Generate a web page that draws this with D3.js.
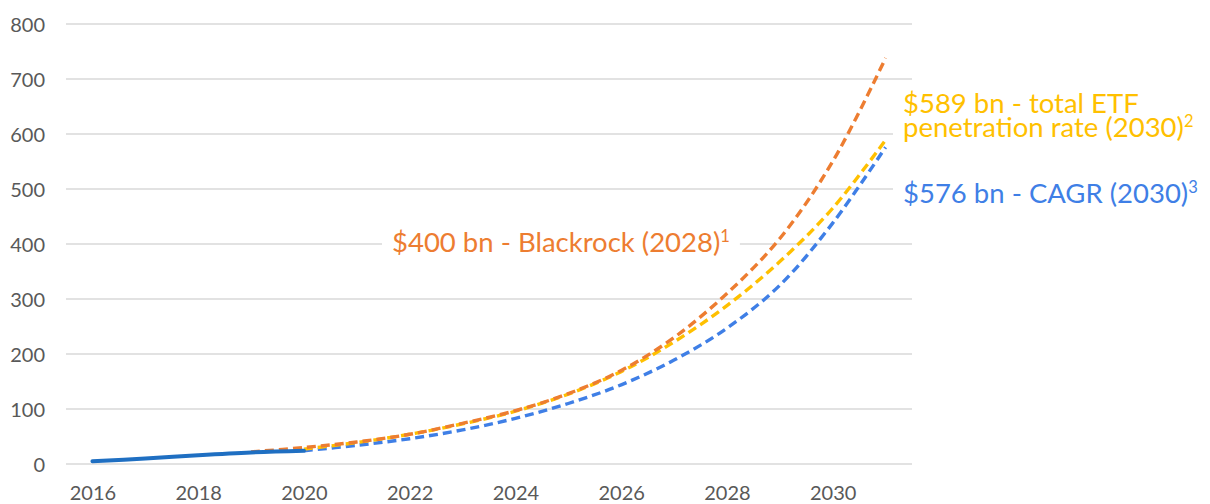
<!DOCTYPE html>
<html>
<head>
<meta charset="utf-8">
<script src="https://cdn.jsdelivr.net/npm/d3@7"></script>
<style>
  body { margin: 0; background: #fff; }
  text { font-family: Lato, "Open Sans", sans-serif; }
  .axis text { fill: #595959; font-size: 20px; }
  .axis .domain { display: none; }
</style>
</head>
<body>
<svg width="1210" height="504"></svg>
<script>
var svg = d3.select("svg"),
  width = +svg.attr("width"),
  height = +svg.attr("height");

// categories (years) and series, null where a series has no value
const years = [2016, 2017, 2018, 2019, 2020, 2021, 2022, 2023, 2024, 2025, 2026, 2027, 2028, 2029, 2030, 2031];
const yearLabels = [2016, 2018, 2020, 2022, 2024, 2026, 2028, 2030];
const historical = [5, 10, 16, 21, 24, null, null, null, null, null, null, null, null, null, null, null];
const blackrock = [null, null, null, 22, 30, 40, 54, 74, 97, 128, 170, 230, 310, 410, 550, 738];
const penetration = [null, null, null, null, 27, 39, 54, 73, 96, 127, 168, 222, 288, 368, 465, 589];
const cagr = [null, null, null, null, 24, 34, 46, 62, 83, 110, 144, 189, 247, 325, 438, 576];
const yTicks = [0, 100, 200, 300, 400, 500, 600, 700, 800];

var x = d3.scalePoint()
  .domain(years)
  .range([66, 912])
  .padding(0.5);

var y = d3.scaleLinear()
  .domain([0, 800])
  .range([464, 24]);

// gridlines
svg.append("g")
  .attr("class", "grid")
  .selectAll("line")
  .data(yTicks)
  .enter().append("line")
  .attr("x1", 66)
  .attr("x2", 912)
  .attr("y1", function(d) { return y(d); })
  .attr("y2", function(d) { return y(d); })
  .attr("stroke", "#d9d9d9")
  .attr("stroke-width", 1.4);

svg.append("g")
  .attr("class", "axis")
  .attr("transform", "translate(66,0)")
  .call(d3.axisLeft(y).tickValues(yTicks).tickSize(0).tickPadding(21))
  .selectAll("text").attr("dy", "0.36em");

svg.append("g")
  .attr("class", "axis")
  .attr("transform", "translate(0,464)")
  .call(d3.axisBottom(x).tickValues(yearLabels).tickSize(0).tickPadding(22));

var series = [
  { values: cagr, color: "#3f7fe6", dash: "9,5", w: 3.4 },
  { values: penetration, color: "#ffc000", dash: "9,5", w: 3.4 },
  { values: blackrock, color: "#ed7d31", dash: "9,5", w: 3.4 },
  { values: historical, color: "#1f6fc2", dash: null, w: 4 }
];

var line = d3.line()
  .defined(function(d) { return d[1] != null; })
  .x(function(d) { return x(d[0]); })
  .y(function(d) { return y(d[1]); })
  .curve(d3.curveCatmullRom.alpha(0.5));

svg.append("g")
  .attr("class", "lines")
  .selectAll("path")
  .data(series)
  .enter().append("path")
  .attr("fill", "none")
  .attr("stroke", function(d) { return d.color; })
  .attr("stroke-width", function(d) { return d.w; })
  .attr("stroke-dasharray", function(d) { return d.dash; })
  .attr("stroke-linecap", function(d) { return d.dash ? "butt" : "round"; })
  .attr("d", function(d) {
    return line(years.map(function(yr, i) { return [yr, d.values[i]]; }));
  });

// annotations with white boxes behind them
function label(lines, sup, color, xPos, yPos, size, lineH) {
  var g = svg.append("g");
  var t = g.append("text")
    .attr("x", xPos)
    .attr("y", yPos)
    .attr("fill", color)
    .style("font-size", size + "px");
  lines.forEach(function(s, i) {
    t.append("tspan")
      .attr("x", xPos)
      .attr("dy", i == 0 ? 0 : lineH)
      .text(s);
  });
  t.append("tspan")
    .attr("dy", -size * 0.36)
    .style("font-size", (size * 0.6) + "px")
    .text(sup);
  var b = t.node().getBBox();
  g.insert("rect", "text")
    .attr("x", b.x - 10)
    .attr("y", b.y - 2)
    .attr("width", b.width + 20)
    .attr("height", b.height + 4)
    .attr("fill", "#fff");
}

label(["$400 bn - Blackrock (2028)"], "1", "#ed7d31", 392, 252, 27.5, 0);
label(["$589 bn - total ETF", "penetration rate (2030)"], "2", "#ffc000", 903, 113, 27.5, 24);
label(["$576 bn - CAGR (2030)"], "3", "#3f7fe6", 903, 203, 27.5, 0);
</script>
</body>
</html>
